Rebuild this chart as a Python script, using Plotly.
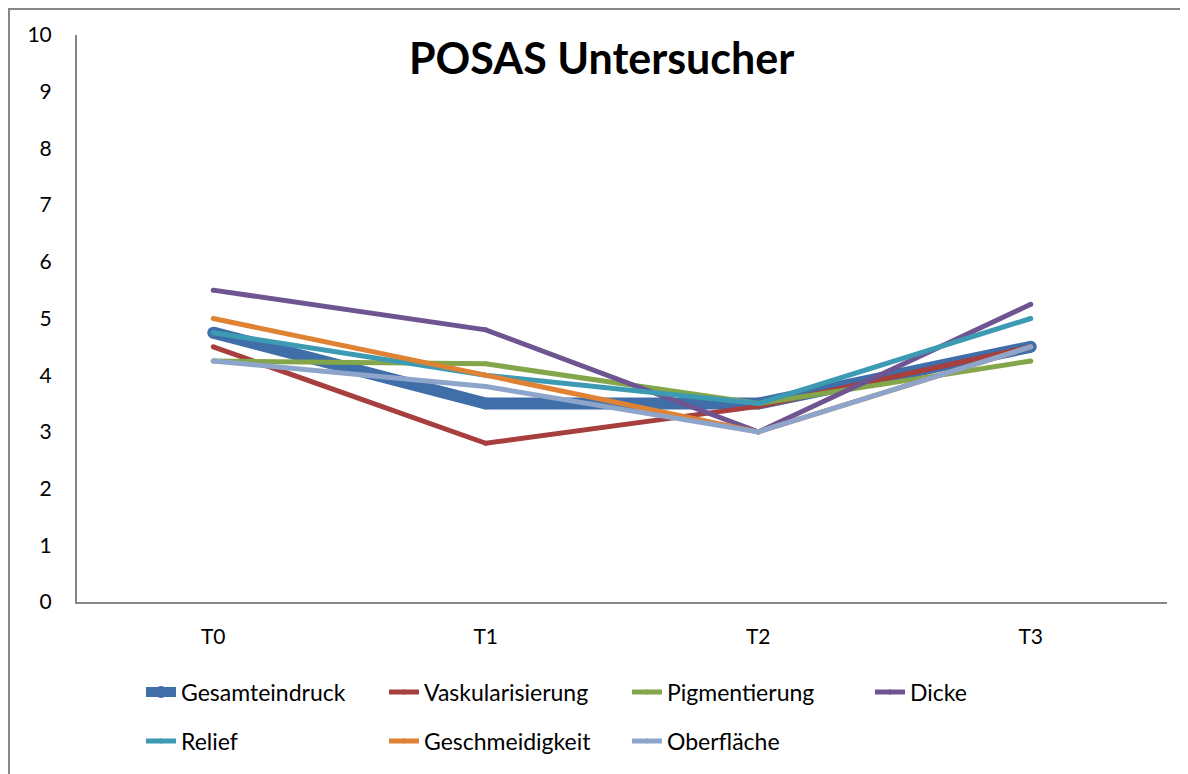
import plotly.graph_objects as go

categories = ["T0", "T1", "T2", "T3"]
gesamteindruck = [4.75, 3.5, 3.5, 4.5]
vaskularisierung = [4.5, 2.8, 3.45, 4.5]
pigmentierung = [4.25, 4.2, 3.5, 4.25]
dicke = [5.5, 4.8, 3.0, 5.25]
relief = [4.75, 4.0, 3.5, 5.0]
geschmeidigkeit = [5.0, 4.0, 3.0, 4.5]
oberflaeche = [4.25, 3.8, 3.0, 4.5]
y_ticks = list(range(0, 11))

FONT = "Lato, 'Open Sans', sans-serif"

series = [
    ("Gesamteindruck", gesamteindruck, "#3F6EA8", 12, "legend"),
    ("Vaskularisierung", vaskularisierung, "#A63F3E", 5, "legend"),
    ("Pigmentierung", pigmentierung, "#84A64A", 5, "legend"),
    ("Dicke", dicke, "#6E5592", 5, "legend"),
    ("Relief", relief, "#3C9AB2", 5, "legend2"),
    ("Geschmeidigkeit", geschmeidigkeit, "#DF8234", 5, "legend2"),
    ("Oberfläche", oberflaeche, "#8DA5CB", 5, "legend2"),
]

# page has an 8px body margin: figure is sized/offset to compensate
OFF = 8
W, H = 1188 - OFF, 774 - OFF
PL, PR, PT, PB = 77 - OFF, 1167 - OFF, 35 - OFF, 602 - OFF  # plot area in figure px
PW, PH = PR - PL, PB - PT


def px_x(sx):
    return (sx - OFF - PL) / PW


def px_y(sy):
    return (PB - (sy - OFF)) / PH


fig = go.Figure()
for name, vals, color, w, lg in series:
    fig.add_trace(go.Scatter(
        x=categories, y=vals, name=name, mode="lines+markers",
        line=dict(color=color, width=w),
        marker=dict(color=color, size=w, line=dict(width=0)),
        legend=lg,
    ))

legend_common = dict(
    orientation="h", xanchor="left", yanchor="middle",
    entrywidth=198, entrywidthmode="pixels",
    font=dict(family=FONT, size=23, color="#000000"),
    bgcolor="rgba(0,0,0,0)", itemwidth=30, tracegroupgap=0,
)

fig.update_layout(
    width=W, height=H,
    margin=dict(l=PL, r=W - PR, t=PT, b=H - PB, autoexpand=False),
    paper_bgcolor="white", plot_bgcolor="white",
    font=dict(family=FONT, size=21, color="#000000"),
    showlegend=True,
    legend=dict(x=px_x(141), y=px_y(692), **legend_common),
    legend2=dict(x=px_x(141), y=px_y(741), **legend_common),
    xaxis=dict(
        type="category", categoryorder="array", categoryarray=categories,
        range=[-0.5, 3.5], showgrid=False, zeroline=False,
        showline=True, linecolor="#868686", linewidth=2,
        ticks="", ticklabelstandoff=15,
        tickfont=dict(family=FONT, size=21, color="#000000"),
    ),
    yaxis=dict(
        range=[0, 10], tickvals=y_ticks, showgrid=False, zeroline=False,
        showline=True, linecolor="#868686", linewidth=2,
        ticks="", ticklabelstandoff=19,
        tickfont=dict(family=FONT, size=21, color="#000000"),
    ),
)

fig.add_annotation(
    text="<b>POSAS Untersucher</b>", xref="paper", yref="paper",
    x=px_x(601), y=px_y(57), xanchor="center", yanchor="middle",
    showarrow=False, font=dict(family=FONT, size=43, color="#000000"),
)

# chart frame (left and top edges visible)
fig.add_shape(
    type="rect", xref="paper", yref="paper",
    x0=px_x(9), x1=px_x(1210),
    y0=px_y(800), y1=px_y(9),
    line=dict(color="#868686", width=2), fillcolor="rgba(0,0,0,0)", layer="below",
)

fig.write_html("out.html")
